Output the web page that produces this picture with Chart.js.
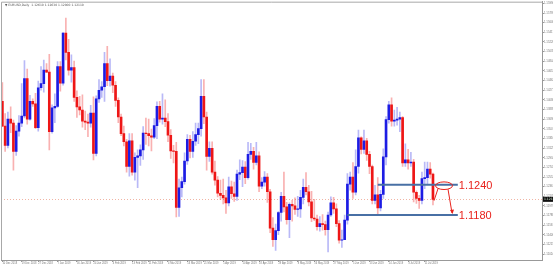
<!DOCTYPE html>
<html>
<head>
<meta charset="utf-8">
<script src="https://cdn.jsdelivr.net/npm/chart.js@4.4.1/dist/chart.umd.min.js"></script>
<style>
  html, body { margin: 0; padding: 0; background: #fff; }
  canvas { display: block; }
</style>
</head>
<body>
<canvas id="chart" width="553" height="267"></canvas>
<script>
// EURUSD daily candles
const dates = [
  '10 Dec 2018','11 Dec 2018','12 Dec 2018','13 Dec 2018','14 Dec 2018','17 Dec 2018','18 Dec 2018','19 Dec 2018','20 Dec 2018','21 Dec 2018',
  '24 Dec 2018','25 Dec 2018','26 Dec 2018','27 Dec 2018','28 Dec 2018','31 Dec 2018',
  '1 Jan 2019','2 Jan 2019','3 Jan 2019','4 Jan 2019','7 Jan 2019','8 Jan 2019','9 Jan 2019','10 Jan 2019','11 Jan 2019','14 Jan 2019',
  '15 Jan 2019','16 Jan 2019','17 Jan 2019','18 Jan 2019','21 Jan 2019','22 Jan 2019','23 Jan 2019','24 Jan 2019','25 Jan 2019','28 Jan 2019',
  '29 Jan 2019','30 Jan 2019','31 Jan 2019',
  '1 Feb 2019','4 Feb 2019','5 Feb 2019','6 Feb 2019','7 Feb 2019','8 Feb 2019','11 Feb 2019','12 Feb 2019','13 Feb 2019','14 Feb 2019',
  '15 Feb 2019','18 Feb 2019','19 Feb 2019','20 Feb 2019','21 Feb 2019','22 Feb 2019','25 Feb 2019','26 Feb 2019','27 Feb 2019','28 Feb 2019',
  '1 Mar 2019','4 Mar 2019','5 Mar 2019','6 Mar 2019','7 Mar 2019','8 Mar 2019','11 Mar 2019','12 Mar 2019','13 Mar 2019','14 Mar 2019',
  '15 Mar 2019','18 Mar 2019','19 Mar 2019','20 Mar 2019','21 Mar 2019','22 Mar 2019','25 Mar 2019','26 Mar 2019','27 Mar 2019','28 Mar 2019','29 Mar 2019',
  '1 Apr 2019','2 Apr 2019','3 Apr 2019','4 Apr 2019','5 Apr 2019','8 Apr 2019','9 Apr 2019','10 Apr 2019','11 Apr 2019','12 Apr 2019',
  '15 Apr 2019','16 Apr 2019','17 Apr 2019','18 Apr 2019','19 Apr 2019','22 Apr 2019','23 Apr 2019','24 Apr 2019','25 Apr 2019','26 Apr 2019',
  '29 Apr 2019','30 Apr 2019',
  '1 May 2019','2 May 2019','3 May 2019','6 May 2019','7 May 2019','8 May 2019','9 May 2019','10 May 2019','13 May 2019','14 May 2019',
  '15 May 2019','16 May 2019','17 May 2019','20 May 2019','21 May 2019','22 May 2019','23 May 2019','24 May 2019','27 May 2019','28 May 2019',
  '29 May 2019','30 May 2019','31 May 2019',
  '3 Jun 2019','4 Jun 2019','5 Jun 2019','6 Jun 2019','7 Jun 2019','10 Jun 2019','11 Jun 2019','12 Jun 2019','13 Jun 2019','14 Jun 2019',
  '17 Jun 2019','18 Jun 2019','19 Jun 2019','20 Jun 2019','21 Jun 2019','24 Jun 2019','25 Jun 2019','26 Jun 2019','27 Jun 2019','28 Jun 2019',
  '1 Jul 2019','2 Jul 2019','3 Jul 2019','4 Jul 2019','5 Jul 2019','8 Jul 2019','9 Jul 2019','10 Jul 2019','11 Jul 2019','12 Jul 2019',
  '15 Jul 2019','16 Jul 2019'
];

const opens = [
  1.1405,1.1356,1.1318,1.1370,1.1362,1.1306,1.1346,1.1362,1.1376,1.1450,
  1.1370,1.1405,1.1400,1.1353,1.1432,1.1440,
  1.1467,1.1463,1.1345,1.1392,1.1395,1.1474,1.1441,1.1540,1.1502,1.1467,
  1.1472,1.1413,1.1394,1.1388,1.1366,1.1364,1.1362,1.1382,1.1302,1.1410,
  1.1427,1.1434,1.1480,
  1.1446,1.1455,1.1437,1.1407,1.1374,1.1341,1.1325,1.1276,1.1327,1.1265,
  1.1294,1.1297,1.1309,1.1342,1.1341,1.1337,1.1334,1.1357,1.1395,1.1370,
  1.1372,1.1365,1.1338,1.1307,1.1306,1.1195,1.1234,1.1246,1.1287,1.1330,
  1.1306,1.1326,1.1339,1.1351,1.1415,1.1374,1.1296,1.1312,1.1265,1.1249,1.1223,
  1.1219,1.1214,1.1204,1.1236,1.1222,1.1217,1.1261,1.1264,1.1275,1.1254,
  1.1300,1.1306,1.1284,1.1297,1.1237,1.1245,1.1255,1.1226,1.1154,1.1131,
  1.1149,1.1185,
  1.1217,1.1196,1.1171,1.1201,1.1198,1.1191,1.1192,1.1215,1.1235,1.1226,
  1.1206,1.1174,1.1172,1.1157,1.1163,1.1161,1.1151,1.1180,1.1204,1.1192,
  1.1163,1.1130,1.1131,
  1.1170,1.1241,1.1255,1.1225,1.1276,1.1333,1.1310,1.1327,1.1300,1.1276,
  1.1209,1.1220,1.1194,1.1221,1.1295,1.1369,1.1398,1.1366,1.1368,1.1370,
  1.1373,1.1283,1.1289,1.1283,1.1285,1.1225,1.1213,1.1209,1.1252,1.1254,
  1.1271,1.1261
];

const highs = [
  1.1442,1.1381,1.1384,1.1394,1.1368,1.1357,1.1377,1.1440,1.1486,1.1469,
  1.1417,1.1410,1.1421,1.1445,1.1474,1.1487,
  1.1480,1.1498,1.1398,1.1420,1.1484,1.1484,1.1541,1.1570,1.1528,1.1497,
  1.1485,1.1426,1.1415,1.1418,1.1386,1.1380,1.1397,1.1414,1.1416,1.1448,
  1.1444,1.1502,1.1514,
  1.1489,1.1461,1.1444,1.1412,1.1380,1.1356,1.1330,1.1341,1.1341,1.1303,
  1.1309,1.1319,1.1355,1.1372,1.1370,1.1350,1.1371,1.1404,1.1405,1.1420,
  1.1408,1.1381,1.1349,1.1318,1.1324,1.1251,1.1255,1.1303,1.1339,1.1338,
  1.1345,1.1362,1.1362,1.1448,1.1448,1.1384,1.1325,1.1325,1.1287,1.1256,1.1249,
  1.1251,1.1229,1.1255,1.1247,1.1245,1.1269,1.1289,1.1288,1.1286,1.1324,
  1.1322,1.1314,1.1324,1.1305,1.1254,1.1266,1.1262,1.1231,1.1175,1.1162,
  1.1187,1.1225,
  1.1265,1.1205,1.1204,1.1209,1.1214,1.1217,1.1229,1.1251,1.1264,1.1239,
  1.1227,1.1211,1.1180,1.1177,1.1181,1.1168,1.1186,1.1216,1.1215,1.1202,
  1.1169,1.1150,1.1180,
  1.1262,1.1265,1.1284,1.1309,1.1348,1.1335,1.1348,1.1332,1.1306,1.1279,
  1.1239,1.1254,1.1229,1.1311,1.1375,1.1405,1.1412,1.1388,1.1393,1.1384,
  1.1375,1.1321,1.1310,1.1304,1.1290,1.1228,1.1219,1.1265,1.1285,1.1285,
  1.1284,1.1263
];

const lows = [
  1.1355,1.1306,1.1313,1.1343,1.1269,1.1298,1.1336,1.1355,1.1372,1.1360,
  1.1368,1.1395,1.1351,1.1346,1.1427,1.1423,
  1.1462,1.1309,1.1342,1.1363,1.1393,1.1425,1.1437,1.1487,1.1457,1.1443,
  1.1405,1.1373,1.1378,1.1354,1.1349,1.1335,1.1354,1.1289,1.1297,1.1403,
  1.1413,1.1405,1.1436,
  1.1435,1.1422,1.1395,1.1363,1.1337,1.1317,1.1265,1.1257,1.1259,1.1249,
  1.1234,1.1278,1.1290,1.1320,1.1317,1.1307,1.1331,1.1331,1.1364,1.1360,
  1.1355,1.1325,1.1292,1.1283,1.1176,1.1177,1.1216,1.1241,1.1280,1.1293,
  1.1294,1.1318,1.1321,1.1336,1.1361,1.1269,1.1286,1.1261,1.1239,1.1216,1.1211,
  1.1202,1.1183,1.1198,1.1213,1.1207,1.1209,1.1250,1.1236,1.1242,1.1251,
  1.1290,1.1271,1.1279,1.1226,1.1232,1.1237,1.1205,1.1145,1.1118,1.1110,
  1.1141,1.1168,
  1.1186,1.1162,1.1135,1.1168,1.1181,1.1177,1.1175,1.1202,1.1220,1.1198,
  1.1167,1.1169,1.1150,1.1148,1.1150,1.1140,1.1107,1.1177,1.1183,1.1157,
  1.1124,1.1116,1.1131,
  1.1162,1.1229,1.1213,1.1220,1.1263,1.1301,1.1302,1.1288,1.1262,1.1202,
  1.1202,1.1181,1.1188,1.1213,1.1279,1.1362,1.1356,1.1356,1.1358,1.1345,
  1.1276,1.1276,1.1271,1.1276,1.1206,1.1203,1.1193,1.1202,1.1232,1.1240,
  1.1253,1.1200
];

const closes = [
  1.1356,1.1318,1.1370,1.1362,1.1306,1.1346,1.1362,1.1376,1.1450,1.1370,
  1.1405,1.1400,1.1353,1.1432,1.1440,1.1467,
  1.1463,1.1345,1.1392,1.1395,1.1474,1.1441,1.1540,1.1502,1.1467,1.1472,
  1.1413,1.1394,1.1388,1.1366,1.1364,1.1362,1.1382,1.1302,1.1410,1.1427,
  1.1434,1.1480,1.1446,
  1.1455,1.1437,1.1407,1.1374,1.1341,1.1325,1.1276,1.1327,1.1265,1.1294,
  1.1297,1.1309,1.1342,1.1341,1.1337,1.1334,1.1357,1.1395,1.1370,1.1372,
  1.1365,1.1338,1.1307,1.1306,1.1195,1.1234,1.1246,1.1287,1.1330,1.1306,
  1.1326,1.1339,1.1351,1.1415,1.1374,1.1296,1.1312,1.1265,1.1249,1.1223,1.1219,
  1.1214,1.1204,1.1236,1.1222,1.1217,1.1261,1.1264,1.1275,1.1254,1.1300,
  1.1306,1.1284,1.1297,1.1237,1.1245,1.1255,1.1226,1.1154,1.1131,1.1149,
  1.1185,1.1217,
  1.1196,1.1171,1.1201,1.1198,1.1191,1.1192,1.1215,1.1235,1.1226,1.1206,
  1.1174,1.1172,1.1157,1.1163,1.1161,1.1151,1.1180,1.1204,1.1192,1.1163,
  1.1130,1.1131,1.1170,
  1.1241,1.1255,1.1225,1.1276,1.1333,1.1310,1.1327,1.1300,1.1276,1.1209,
  1.1220,1.1194,1.1221,1.1295,1.1369,1.1398,1.1366,1.1368,1.1370,1.1373,
  1.1283,1.1289,1.1283,1.1285,1.1225,1.1213,1.1209,1.1252,1.1254,1.1271,
  1.1261,1.1211
];

// dates that carry a label on the time axis
const tickDates = [
  '10 Dec 2018','19 Dec 2018','27 Dec 2018','7 Jan 2019','16 Jan 2019','24 Jan 2019','4 Feb 2019','13 Feb 2019',
  '21 Feb 2019','4 Mar 2019','13 Mar 2019','21 Mar 2019','1 Apr 2019','10 Apr 2019','18 Apr 2019','29 Apr 2019',
  '8 May 2019','16 May 2019','27 May 2019','5 Jun 2019','13 Jun 2019','24 Jun 2019','3 Jul 2019','11 Jul 2019'
];

// price scale labels (right axis)
const yTicks = [
  1.15990,1.15799,1.15608,1.15417,1.15226,1.15035,1.14844,1.14653,1.14462,1.14271,
  1.14080,1.13889,1.13698,1.13507,1.13316,1.13125,1.12934,1.12743,1.12552,1.12361,
  1.12170,1.11979,1.11788,1.11597,1.11406,1.11215,1.11024
];
const yMin = 1.10909, yMax = 1.16024;

// hand drawn levels
const levels = [1.1240, 1.1180];
const levelFrom = ['18 Jun 2019', '3 Jun 2019'];
const levelTo = 165;      // slot index where the lines stop
const emptySlots = 39;    // chart shift on the right

const labels = dates.concat(new Array(emptySlots).fill(''));
const up = closes.map((c, i) => c >= opens[i]);
const bodyColors = up.map(u => u ? 'rgb(28,28,228)' : 'rgb(238,22,22)');
const wickColors = up.map(u => u ? 'rgba(80,80,235,0.4)' : 'rgba(240,70,70,0.42)');

const overlay = {
  id: 'overlay',
  beforeDatasetsDraw(chart) {
    const { ctx, chartArea: a, scales: { y } } = chart;
    const last = closes[closes.length - 1];
    const py = Math.round(y.getPixelForValue(last)) + 0.5;
    ctx.save();
    ctx.strokeStyle = '#f0b4a4';
    ctx.lineWidth = 1;
    ctx.setLineDash([1, 2]);
    ctx.beginPath();
    ctx.moveTo(a.left, py);
    ctx.lineTo(a.right, py);
    ctx.stroke();
    ctx.restore();
  },
  afterDraw(chart) {
    const { ctx, chartArea: a, scales: { x, y } } = chart;
    ctx.save();

    // frame
    ctx.strokeStyle = '#a8a8a8';
    ctx.lineWidth = 1;
    ctx.beginPath();
    ctx.moveTo(a.left + 0.5, a.bottom);
    ctx.lineTo(a.left + 0.5, a.top + 0.5);
    ctx.lineTo(a.right, a.top + 0.5);
    ctx.stroke();

    // level lines + labels
    const xEnd = x.getPixelForValue(levelTo);
    levels.forEach((lv, k) => {
      const ly = y.getPixelForValue(lv);
      const xs = x.getPixelForValue(dates.indexOf(levelFrom[k]));
      ctx.strokeStyle = 'rgb(72,112,165)';
      ctx.lineWidth = 2;
      ctx.beginPath();
      ctx.moveTo(xs, ly);
      ctx.lineTo(xEnd, ly);
      ctx.stroke();
      ctx.fillStyle = '#e8221c';
      ctx.font = '11px "Liberation Sans", Arial, sans-serif';
      ctx.textAlign = 'left';
      ctx.textBaseline = 'middle';
      ctx.fillText(lv.toFixed(4), xEnd + 1, ly + 1);
    });

    // ellipse and arrow
    const ex = x.getPixelForValue(160), ey = y.getPixelForValue(levels[0]) + 1;
    const ty = y.getPixelForValue(levels[1]);
    ctx.strokeStyle = '#e8221c';
    ctx.lineWidth = 1;
    ctx.beginPath();
    ctx.ellipse(ex, ey, 8.5, 3.8, 0, 0, Math.PI * 2);
    ctx.stroke();
    ctx.beginPath();
    ctx.moveTo(ex - 6, ey + 3);
    ctx.lineTo(ex - 10, ey + 15);
    ctx.moveTo(ex + 4, ey + 3.5);
    ctx.lineTo(ex + 8, ty - 2);
    ctx.stroke();
    ctx.beginPath();
    ctx.moveTo(ex + 8.5, ty - 1);
    ctx.lineTo(ex + 6, ty - 5);
    ctx.lineTo(ex + 10, ty - 5.5);
    ctx.closePath();
    ctx.fillStyle = '#e8221c';
    ctx.fill();

    // title
    const n = closes.length - 1;
    ctx.fillStyle = '#555';
    ctx.font = '3px "DejaVu Sans", sans-serif';
    ctx.textAlign = 'left';
    ctx.textBaseline = 'middle';
    ctx.fillText('\u25BC EURUSD,Daily  ' + [opens[n], highs[n], lows[n], closes[n]].map(v => v.toFixed(5)).join(' '), a.left + 4, a.top + 3.5);

    // current price tag on the axis
    const py = y.getPixelForValue(closes[n]);
    ctx.fillStyle = '#111';
    ctx.fillRect(a.right + 1, py - 2.5, 11, 5);
    ctx.fillStyle = '#cfe8cf';
    ctx.fillText(closes[n].toFixed(5), a.right + 2, py);
    ctx.restore();
  }
};

new Chart(document.getElementById('chart'), {
  type: 'bar',
  data: {
    labels: labels,
    datasets: [
      {
        label: 'wick',
        data: dates.map((d, i) => [lows[i], highs[i]]),
        backgroundColor: wickColors,
        barThickness: 1,
        grouped: false,
        order: 2
      },
      {
        label: 'body',
        data: dates.map((d, i) => [opens[i], closes[i]]),
        backgroundColor: bodyColors,
        barThickness: 2,
        grouped: false,
        order: 1
      }
    ]
  },
  options: {
    responsive: false,
    animation: false,
    layout: { padding: { left: 1, top: 1, right: 0, bottom: 0 } },
    plugins: { legend: { display: false }, tooltip: { enabled: false } },
    scales: {
      x: {
        grid: {
          drawOnChartArea: false,
          offset: false,
          tickLength: 2,
          color: ctx => tickDates.includes(labels[ctx.index]) ? '#999' : 'rgba(0,0,0,0)'
        },
        border: { color: '#999' },
        ticks: {
          autoSkip: false,
          maxRotation: 0,
          minRotation: 0,
          align: 'start',
          padding: 0,
          color: '#777',
          font: { size: 2.6, family: 'Liberation Sans' },
          callback: function (v) {
            const d = this.getLabelForValue(v);
            return tickDates.includes(d) ? d : '';
          }
        },
        afterFit: s => { s.height = 7; }
      },
      y: {
        position: 'right',
        min: yMin,
        max: yMax,
        afterBuildTicks: s => { s.ticks = yTicks.map(v => ({ value: v })); },
        grid: { drawOnChartArea: false, tickLength: 2, color: '#999' },
        border: { color: '#999' },
        ticks: {
          padding: 0,
          color: '#777',
          font: { size: 2.8, family: 'Liberation Sans' },
          callback: v => v.toFixed(5)
        },
        afterFit: s => { s.width = 11; }
      }
    }
  },
  plugins: [overlay]
});
</script>
</body>
</html>
